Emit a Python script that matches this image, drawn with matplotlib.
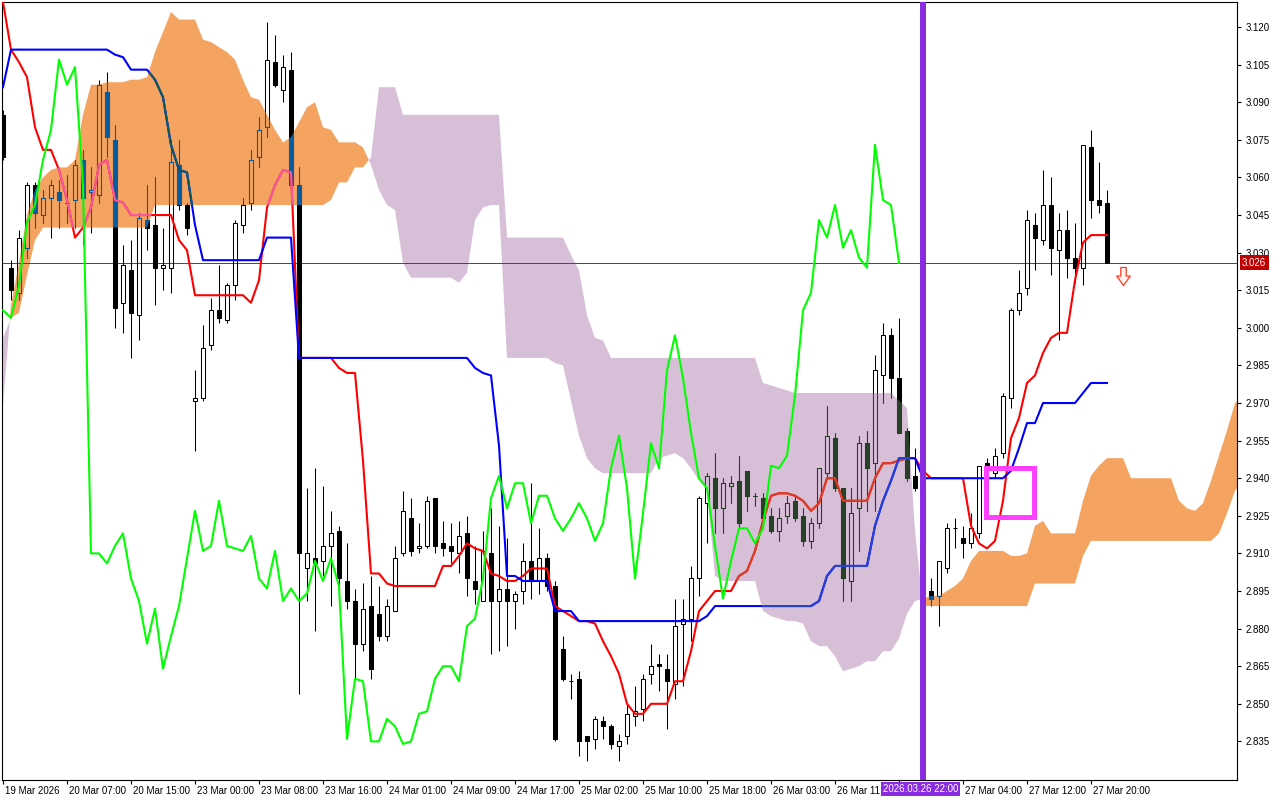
import matplotlib
matplotlib.use("Agg")
import numpy as np
import matplotlib.pyplot as plt
from matplotlib.collections import LineCollection
from matplotlib.patches import Rectangle
from matplotlib.path import Path
from matplotlib.transforms import blended_transform_factory, ScaledTranslation

plt.rcParams["font.family"] = ["Liberation Sans", "DejaVu Sans"]
plt.rcParams["font.size"] = 7

# H1 candles, bar 0 = 19 Mar 2026 (first visible bar on the chart)
opens = [3.085, 3.024, 3.014, 3.032, 3.057, 3.045, 3.052, 3.054, 3.050, 3.051,
         3.067, 3.054, 3.053, 3.094, 3.075, 3.010, 3.023, 3.005, 3.043, 3.041,
         3.024, 3.024, 3.065, 3.049, 2.971, 2.972, 2.993, 3.007, 3.003, 3.017,
         3.041, 3.050, 3.068, 3.080, 3.106, 3.095, 3.103, 3.057, 2.904, 2.908,
         2.907, 2.913, 2.919, 2.899, 2.891, 2.874, 2.889, 2.886, 2.877, 2.887,
         2.910, 2.924, 2.912, 2.913, 2.932, 2.914, 2.913, 2.910, 2.918, 2.899,
         2.891, 2.910, 2.891, 2.896, 2.891, 2.895, 2.907, 2.899, 2.908, 2.897,
         2.872, 2.859, 2.860, 2.837, 2.836, 2.843, 2.841, 2.833, 2.837, 2.845,
         2.848, 2.862, 2.866, 2.864, 2.858, 2.882, 2.884, 2.900, 2.930, 2.940,
         2.928, 2.937, 2.939, 2.943, 2.933, 2.932, 2.925, 2.919, 2.925, 2.931,
         2.925, 2.915, 2.922, 2.942, 2.956, 2.936, 2.899, 2.928, 2.954, 2.946,
         2.981, 2.997, 2.980, 2.959, 2.941, 2.936, 2.895, 2.893, 2.904, 2.920,
         2.916, 2.914, 2.918, 2.946, 2.942, 2.950, 2.972, 3.007, 3.016, 3.041,
         3.035, 3.049, 3.031, 3.039, 3.028, 3.024, 3.072, 3.051, 3.050]
highs = [3.087, 3.027, 3.039, 3.058, 3.058, 3.055, 3.059, 3.059, 3.061, 3.067,
         3.071, 3.064, 3.099, 3.102, 3.081, 3.033, 3.035, 3.046, 3.057, 3.060,
         3.040, 3.075, 3.075, 3.050, 2.983, 3.001, 3.012, 3.025, 3.018, 3.043,
         3.052, 3.071, 3.084, 3.122, 3.117, 3.109, 3.110, 3.064, 2.936, 2.944,
         2.937, 2.927, 2.921, 2.914, 2.896, 2.898, 2.901, 2.897, 2.892, 2.913,
         2.935, 2.932, 2.922, 2.933, 2.932, 2.923, 2.922, 2.923, 2.925, 2.913,
         2.919, 2.928, 2.921, 2.916, 2.895, 2.914, 2.938, 2.920, 2.910, 2.899,
         2.877, 2.862, 2.863, 2.837, 2.845, 2.845, 2.842, 2.838, 2.850, 2.857,
         2.862, 2.874, 2.870, 2.870, 2.892, 2.892, 2.905, 2.933, 2.942, 2.950,
         2.940, 2.941, 2.949, 2.943, 2.934, 2.934, 2.928, 2.928, 2.933, 2.933,
         2.928, 2.924, 2.944, 2.969, 2.958, 2.936, 2.936, 2.957, 2.959, 2.989,
         3.002, 3.000, 3.004, 2.960, 2.952, 2.939, 2.900, 2.907, 2.922, 2.924,
         2.921, 2.926, 2.945, 2.948, 2.952, 2.974, 3.008, 3.023, 3.047, 3.046,
         3.063, 3.060, 3.046, 3.047, 3.042, 3.073, 3.079, 3.066, 3.055]
lows = [3.067, 3.011, 3.011, 3.028, 3.040, 3.042, 3.036, 3.040, 3.042, 3.040,
        3.033, 3.038, 3.050, 3.068, 3.000, 2.998, 2.988, 2.995, 3.031, 3.009,
        3.015, 3.014, 3.047, 3.037, 2.951, 2.971, 2.991, 3.002, 3.002, 3.011,
        3.038, 3.047, 3.064, 3.076, 3.096, 3.090, 3.052, 2.854, 2.891, 2.879,
        2.901, 2.889, 2.895, 2.888, 2.860, 2.871, 2.860, 2.875, 2.875, 2.887,
        2.909, 2.909, 2.910, 2.912, 2.910, 2.909, 2.906, 2.902, 2.893, 2.890,
        2.891, 2.870, 2.871, 2.873, 2.880, 2.890, 2.892, 2.894, 2.895, 2.835,
        2.859, 2.852, 2.829, 2.827, 2.832, 2.836, 2.832, 2.827, 2.834, 2.841,
        2.843, 2.858, 2.855, 2.840, 2.852, 2.857, 2.875, 2.893, 2.914, 2.918,
        2.918, 2.930, 2.920, 2.927, 2.929, 2.921, 2.918, 2.915, 2.922, 2.923,
        2.913, 2.912, 2.920, 2.940, 2.935, 2.891, 2.891, 2.911, 2.927, 2.927,
        2.970, 2.972, 2.958, 2.939, 2.935, 2.909, 2.889, 2.881, 2.902, 2.912,
        2.908, 2.912, 2.916, 2.943, 2.940, 2.948, 2.968, 3.005, 3.013, 3.023,
        3.033, 3.021, 2.995, 3.020, 3.018, 3.017, 3.044, 3.046, 3.026]
closes = [3.068, 3.015, 3.036, 3.057, 3.046, 3.052, 3.057, 3.051, 3.050, 3.065,
          3.052, 3.055, 3.097, 3.076, 3.008, 3.025, 3.006, 3.044, 3.040, 3.024,
          3.025, 3.066, 3.049, 3.040, 2.972, 2.992, 3.007, 3.004, 3.017, 3.042,
          3.049, 3.067, 3.079, 3.107, 3.097, 3.104, 3.057, 2.910, 2.910, 2.906,
          2.913, 2.918, 2.900, 2.891, 2.874, 2.888, 2.864, 2.877, 2.889, 2.908,
          2.927, 2.911, 2.913, 2.931, 2.913, 2.912, 2.911, 2.917, 2.900, 2.896,
          2.911, 2.891, 2.896, 2.891, 2.894, 2.907, 2.899, 2.908, 2.897, 2.836,
          2.860, 2.859, 2.835, 2.835, 2.844, 2.841, 2.834, 2.835, 2.846, 2.847,
          2.860, 2.865, 2.865, 2.859, 2.881, 2.884, 2.900, 2.932, 2.941, 2.928,
          2.938, 2.938, 2.922, 2.933, 2.933, 2.924, 2.919, 2.924, 2.930, 2.924,
          2.915, 2.922, 2.944, 2.957, 2.936, 2.900, 2.926, 2.954, 2.944, 2.983,
          2.997, 2.980, 2.958, 2.940, 2.936, 2.913, 2.892, 2.907, 2.920, 2.920,
          2.914, 2.920, 2.945, 2.944, 2.949, 2.973, 3.007, 3.014, 3.043, 3.036,
          3.049, 3.032, 3.039, 3.028, 3.024, 3.073, 3.051, 3.049, 3.026]

tenkan = [3.130, 3.111, 3.106, 3.100, 3.080, 3.071, 3.071, 3.063, 3.051, 3.036,
          3.040, 3.048, 3.065, 3.067, 3.051, 3.050, 3.045, 3.045, 3.045, 3.045,
          3.045, 3.045, 3.035, 3.031, 3.013, 3.013, 3.013, 3.013, 3.013, 3.013,
          3.013, 3.010, 3.019, 3.048, 3.057, 3.063, 3.062, 2.988, 2.988, 2.988,
          2.988, 2.988, 2.984, 2.982, 2.982, 2.947, 2.902, 2.902, 2.898, 2.897,
          2.897, 2.897, 2.897, 2.897, 2.897, 2.905, 2.905, 2.909, 2.914, 2.912,
          2.911, 2.902, 2.901, 2.899, 2.899, 2.901, 2.904, 2.904, 2.904, 2.889,
          2.887, 2.885, 2.883, 2.883, 2.882, 2.875, 2.869, 2.862, 2.850, 2.846,
          2.846, 2.850, 2.850, 2.850, 2.859, 2.859, 2.871, 2.887, 2.891, 2.895,
          2.895, 2.895, 2.901, 2.903, 2.911, 2.923, 2.933, 2.934, 2.934, 2.933,
          2.931, 2.927, 2.930, 2.940, 2.940, 2.931, 2.931, 2.931, 2.931, 2.940,
          2.946, 2.946, 2.947, 2.948, 2.948, 2.943, 2.940, 2.940, 2.940, 2.940,
          2.940, 2.921, 2.914, 2.912, 2.915, 2.931, 2.956, 2.964, 2.978, 2.981,
          2.990, 2.996, 2.998, 2.998, 3.019, 3.034, 3.037, 3.037, 3.037]
kijun = [3.096, 3.111, 3.111, 3.111, 3.111, 3.111, 3.111, 3.111, 3.111, 3.111,
         3.111, 3.111, 3.111, 3.111, 3.109, 3.108, 3.103, 3.103, 3.103, 3.099,
         3.092, 3.073, 3.063, 3.062, 3.041, 3.027, 3.027, 3.027, 3.027, 3.027,
         3.027, 3.027, 3.027, 3.036, 3.036, 3.036, 3.036, 2.988, 2.988, 2.988,
         2.988, 2.988, 2.988, 2.988, 2.988, 2.988, 2.988, 2.988, 2.988, 2.988,
         2.988, 2.988, 2.988, 2.988, 2.988, 2.988, 2.988, 2.988, 2.988, 2.984,
         2.982, 2.981, 2.953, 2.901, 2.901, 2.899, 2.899, 2.899, 2.899, 2.887,
         2.887, 2.887, 2.883, 2.883, 2.883, 2.883, 2.883, 2.883, 2.883, 2.883,
         2.883, 2.883, 2.883, 2.883, 2.883, 2.883, 2.883, 2.883, 2.885, 2.889,
         2.889, 2.889, 2.889, 2.889, 2.889, 2.889, 2.889, 2.889, 2.889, 2.889,
         2.889, 2.889, 2.891, 2.901, 2.905, 2.905, 2.905, 2.905, 2.905, 2.921,
         2.931, 2.939, 2.948, 2.948, 2.948, 2.940, 2.940, 2.940, 2.940, 2.940,
         2.940, 2.940, 2.940, 2.940, 2.940, 2.940, 2.943, 2.952, 2.962, 2.962,
         2.970, 2.970, 2.970, 2.970, 2.970, 2.974, 2.978, 2.978, 2.978]

# Senkou spans, already shifted 26 bars ahead (so they run past the last candle)
span_a = [2.969, 3.009, 3.026, 3.045, 3.055, 3.060, 3.063, 3.064, 3.064, 3.067,
          3.085, 3.097, 3.097, 3.098, 3.098, 3.098, 3.099, 3.099, 3.100, 3.110,
          3.118, 3.126, 3.123, 3.123, 3.123, 3.115, 3.114, 3.112, 3.110, 3.107,
          3.099, 3.092, 3.091, 3.085, 3.079, 3.074, 3.076, 3.082, 3.088, 3.090,
          3.080, 3.079, 3.074, 3.074, 3.074, 3.072, 3.065, 3.055, 3.049, 3.047,
          3.026, 3.020, 3.020, 3.020, 3.020, 3.020, 3.020, 3.018, 3.022, 3.043,
          3.048, 3.049, 3.049, 2.988, 2.988, 2.988, 2.988, 2.988, 2.988, 2.986,
          2.985, 2.971, 2.957, 2.948, 2.944, 2.942, 2.942, 2.942, 2.942, 2.942,
          2.942, 2.942, 2.948, 2.949, 2.950, 2.948, 2.944, 2.939, 2.936, 2.901,
          2.899, 2.899, 2.899, 2.899, 2.899, 2.887, 2.885, 2.884, 2.883, 2.883,
          2.882, 2.875, 2.873, 2.873, 2.869, 2.863, 2.864, 2.865, 2.867, 2.867,
          2.871, 2.871, 2.876, 2.886, 2.891, 2.892, 2.893, 2.893, 2.895, 2.897,
          2.900, 2.907, 2.911, 2.911, 2.911, 2.911, 2.909, 2.909, 2.910, 2.921,
          2.923, 2.918, 2.918, 2.918, 2.918, 2.931, 2.941, 2.945, 2.948, 2.948,
          2.948, 2.940, 2.940, 2.940, 2.940, 2.940, 2.940, 2.931, 2.928, 2.927,
          2.930, 2.939, 2.949, 2.959, 2.970, 2.973]
span_b = [2.996, 3.004, 3.006, 3.021, 3.035, 3.040, 3.040, 3.040, 3.040, 3.040,
          3.040, 3.040, 3.040, 3.040, 3.040, 3.040, 3.040, 3.040, 3.040, 3.049,
          3.049, 3.049, 3.049, 3.049, 3.049, 3.049, 3.049, 3.049, 3.049, 3.049,
          3.049, 3.049, 3.049, 3.049, 3.049, 3.049, 3.049, 3.049, 3.049, 3.049,
          3.049, 3.051, 3.058, 3.058, 3.064, 3.064, 3.068, 3.096, 3.096, 3.096,
          3.085, 3.085, 3.085, 3.085, 3.085, 3.085, 3.085, 3.085, 3.085, 3.085,
          3.085, 3.085, 3.085, 3.036, 3.036, 3.036, 3.036, 3.036, 3.036, 3.036,
          3.036, 3.029, 3.023, 3.005, 2.996, 2.995, 2.988, 2.988, 2.988, 2.988,
          2.988, 2.988, 2.988, 2.988, 2.988, 2.988, 2.988, 2.988, 2.988, 2.988,
          2.988, 2.988, 2.988, 2.988, 2.988, 2.978, 2.977, 2.976, 2.975, 2.974,
          2.974, 2.974, 2.974, 2.974, 2.974, 2.974, 2.974, 2.974, 2.974, 2.974,
          2.974, 2.974, 2.971, 2.968, 2.919, 2.889, 2.889, 2.889, 2.889, 2.889,
          2.889, 2.889, 2.889, 2.889, 2.889, 2.889, 2.889, 2.889, 2.889, 2.898,
          2.898, 2.898, 2.898, 2.898, 2.898, 2.909, 2.915, 2.915, 2.915, 2.915,
          2.915, 2.915, 2.915, 2.915, 2.915, 2.915, 2.915, 2.915, 2.915, 2.915,
          2.915, 2.915, 2.918, 2.926, 2.935, 2.939]

CHIKOU_SHIFT = 26

time_label_bars = [0, 8, 16, 24, 32, 40, 48, 56, 64, 72, 80, 88, 96, 104, 112, 120, 128, 136]
time_labels = ["19 Mar 2026", "20 Mar 07:00", "20 Mar 15:00", "23 Mar 00:00", "23 Mar 08:00",
               "23 Mar 16:00", "24 Mar 01:00", "24 Mar 09:00", "24 Mar 17:00", "25 Mar 02:00",
               "25 Mar 10:00", "25 Mar 18:00", "26 Mar 03:00", "26 Mar 11:00", "",
               "27 Mar 04:00", "27 Mar 12:00", "27 Mar 20:00"]
price_ticks = [2.835, 2.850, 2.865, 2.880, 2.895, 2.910, 2.925, 2.940, 2.955, 2.970,
               2.985, 3.000, 3.015, 3.030, 3.045, 3.060, 3.075, 3.090, 3.105, 3.120]

# chart marks placed by the trader
cursor_bar = 115
cursor_label = "2026.03.26 22:00"
box_bars = [122.9, 128.9]
box_prices = [2.9245, 2.9441]
signal_bar = 140
signal_price = 3.0207

ORANGE = "#F4A460"
THISTLE = "#D8BFD8"

fig = plt.figure(figsize=(12.8, 8), dpi=100)
ax = fig.add_axes([2 / 1280, 20 / 800, 1235 / 1280, 778 / 800])
ax.set_xlim(-0.125, 154.25)
ax.set_ylim(2.8196, 3.1300)

bars = np.arange(len(closes))
o, h, l, c = map(np.asarray, (opens, highs, lows, closes))

# kumo
cx = np.arange(len(span_a))
a = np.asarray(span_a)
b = np.asarray(span_b)
bull = ax.fill_between(cx, a, b, where=a >= b, interpolate=True, color=ORANGE, lw=0, zorder=1)
bear = ax.fill_between(cx, a, b, where=a < b, interpolate=True, color=THISTLE, lw=0, zorder=1)
bull_path = Path.make_compound_path(*bull.get_paths())
bear_path = Path.make_compound_path(*bear.get_paths())

ax.axhline(c[-1], color="#C01515", lw=0.7, zorder=1.5)


def draw_candles(line_col, body_col, z, clip=None):
    top = np.maximum(o, c)
    bot = np.minimum(o, c)
    segs = [[(x, hi), (x, t)] for x, hi, t in zip(bars, h, top)]
    segs += [[(x, lo), (x, bt)] for x, lo, bt in zip(bars, l, bot)]
    wicks = LineCollection(segs, colors=line_col, linewidths=0.75, zorder=z)
    ax.add_collection(wicks)
    up = c >= o
    hollow = ax.bar(bars[up], (top - bot)[up], bottom=bot[up], width=0.55,
                    facecolor="none", edgecolor=line_col, linewidth=0.75, zorder=z)
    solid = ax.bar(bars[~up], (top - bot)[~up], bottom=bot[~up], width=0.55,
                   facecolor=body_col, edgecolor=body_col, linewidth=0.75, zorder=z)
    if clip is not None:
        for art in [wicks] + list(hollow) + list(solid):
            art.set_clip_path(clip, ax.transData)


def draw_lines(t_col, k_col, z, clip=None):
    arts = ax.plot(bars, tenkan, color=t_col, lw=1.5, zorder=z)
    arts += ax.plot(bars, kijun, color=k_col, lw=1.5, zorder=z)
    if clip is not None:
        for art in arts:
            art.set_clip_path(clip, ax.transData)


# terminal draws the cloud in inverse mode, so marks inside it flip colour
draw_candles("black", "black", 2)
draw_candles("#0B5B9F", "#0B5B9F", 2.1, bull_path)
draw_candles("#274027", "#274027", 2.1, bear_path)
draw_lines("#FF0000", "#0000FF", 3)
draw_lines("#F45B9F", "#0B5B60", 3.1, bull_path)
draw_lines("#D84027", "#2740D8", 3.1, bear_path)

# chikou span = close drawn 26 bars back
ax.plot(bars[CHIKOU_SHIFT:] - CHIKOU_SHIFT, c[CHIKOU_SHIFT:], color="#00FF00", lw=1.5, zorder=3.5)

ax.axvline(cursor_bar, color="#8A2BE2", lw=4.3, zorder=6)
ax.add_patch(Rectangle((box_bars[0], box_prices[0]), box_bars[1] - box_bars[0],
                       box_prices[1] - box_prices[0], fill=False, ec="#FF40FF", lw=3.6, zorder=7))

arrow = [(-0.3, 1.0), (0.3, 1.0), (0.3, 0.05), (0.75, 0.05), (0.0, -1.0), (-0.75, 0.05), (-0.3, 0.05), (-0.3, 1.0)]
ax.plot([signal_bar], [signal_price], marker=arrow, markersize=13, markerfacecolor="#FFF4F0",
        markeredgecolor="#FF3A20", markeredgewidth=0.9, ls="none", zorder=7)

# axes
for sp in ax.spines.values():
    sp.set_color("black")
    sp.set_linewidth(0.8)
ax.yaxis.tick_right()
ax.set_yticks(price_ticks)
ax.set_yticklabels([f"{p:.3f}" for p in price_ticks])
ax.tick_params(axis="y", direction="out", length=3, pad=3, labelsize=7, colors="black")
ax.set_xticks(time_label_bars)
ax.set_xticklabels(time_labels)
ax.tick_params(axis="x", direction="out", length=3, pad=1.5, labelsize=7)
shift = ScaledTranslation(2 / 100, 0, fig.dpi_scale_trans)
for lbl in ax.get_xticklabels():
    lbl.set_ha("left")
    lbl.set_transform(lbl.get_transform() + shift)

tag_tr = blended_transform_factory(ax.transAxes, ax.transData)
ax.text(1.0, c[-1], f"{c[-1]:.3f}", transform=tag_tr + ScaledTranslation(5 / 100, 0, fig.dpi_scale_trans),
        ha="left", va="center", color="white", fontsize=7, clip_on=False, zorder=10,
        bbox=dict(boxstyle="square,pad=0.25", fc="#C00000", ec="none"))
time_tr = blended_transform_factory(ax.transData, ax.transAxes)
ax.text(cursor_bar - 0.3, 0, cursor_label, transform=time_tr + ScaledTranslation(0, -4 / 100, fig.dpi_scale_trans),
        ha="center", va="top", color="white", fontsize=7, clip_on=False, zorder=10,
        bbox=dict(boxstyle="square,pad=0.2", fc="#8A2BE2", ec="none"))

fig.savefig("out.png", dpi=100)
